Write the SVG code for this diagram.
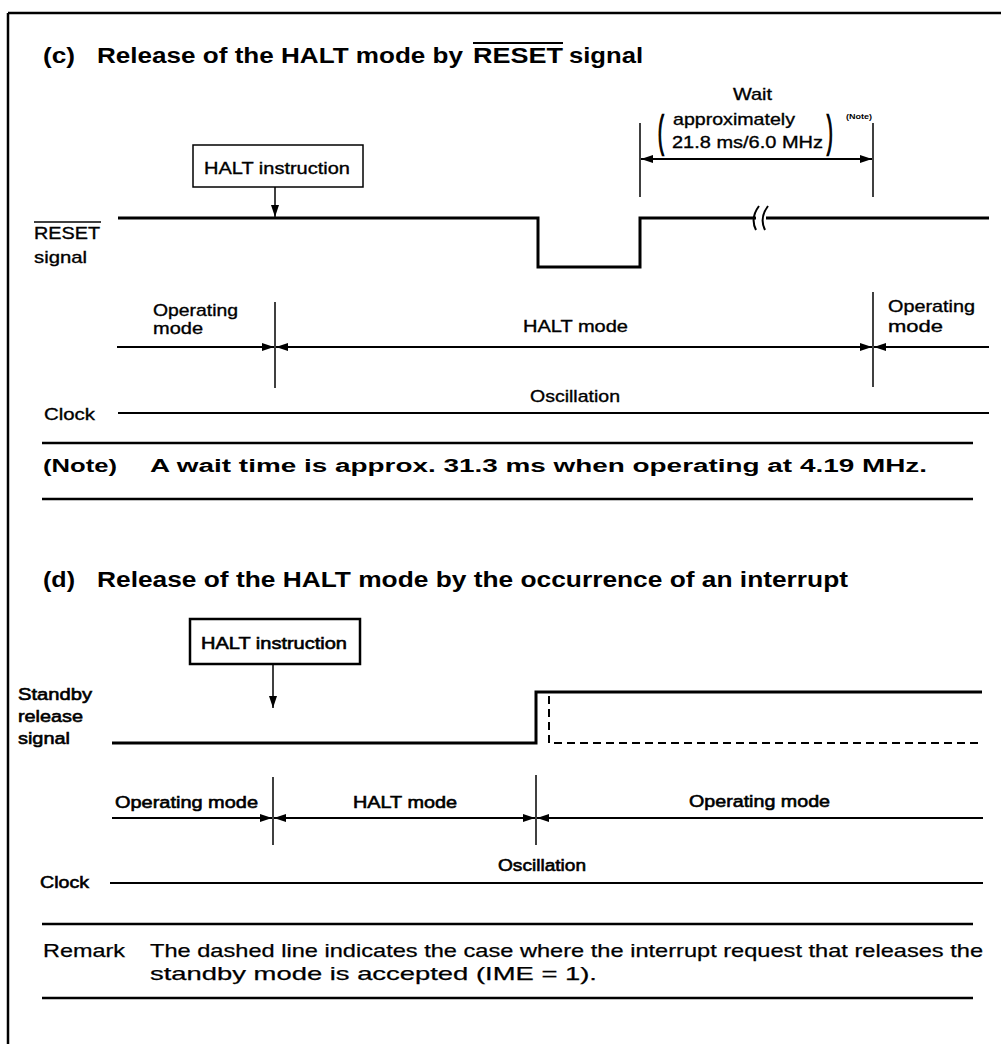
<svg xmlns="http://www.w3.org/2000/svg" width="1001" height="1044" viewBox="0 0 1001 1044">
<style>
text{font-family:"Liberation Sans",Arial,Helvetica,sans-serif;fill:#000}
.ttl{font-size:22px;font-weight:bold}
.lbl{font-size:17px;stroke:#000;stroke-width:0.35}
.lbd{font-size:17px;stroke:#000;stroke-width:0.6}
.par{font-size:17px;stroke:#000;stroke-width:0.9}
.nt{font-size:18px;font-weight:bold}
.rm{font-size:19px;stroke:#000;stroke-width:0.25}
.ln{stroke:#000;fill:none;stroke-width:2}
.sig{stroke:#000;fill:none;stroke-width:3}
.thin{stroke:#000;fill:none;stroke-width:1.5}
.sep{stroke:#000;stroke-width:2.5}
</style>
<defs>
<marker id="ah" viewBox="0 0 12 8" refX="12" refY="4" markerWidth="12" markerHeight="8" markerUnits="userSpaceOnUse" orient="auto-start-reverse">
<path d="M0,0 L12,4 L0,8 z" fill="#000"/>
</marker>
</defs>
<rect width="1001" height="1044" fill="#fff"/>
<g id="frame">
<line x1="8" y1="13" x2="1001" y2="13" class="sep"/>
<line x1="8" y1="13" x2="8" y2="1044" class="sep"/>
</g>

<!-- ===== (c) ===== -->
<g id="title-c">
<text class="ttl" x="43" y="63" textLength="32" lengthAdjust="spacingAndGlyphs">(c)</text>
<text class="ttl" x="97" y="63" textLength="366" lengthAdjust="spacingAndGlyphs">Release of the HALT mode by</text>
<text class="ttl" x="473" y="63" textLength="90" lengthAdjust="spacingAndGlyphs">RESET</text>
<line x1="473" y1="43" x2="563" y2="43" stroke="#000" stroke-width="2"/>
<text class="ttl" x="569" y="63" textLength="74" lengthAdjust="spacingAndGlyphs">signal</text>
</g>
<g id="halt-instr-c">
<rect x="193" y="145" width="170" height="42" class="thin" fill="#fff"/>
<text class="lbl" x="204" y="174" textLength="146" lengthAdjust="spacingAndGlyphs">HALT instruction</text>
</g>
<g id="reset-label">
<text class="lbl" x="34" y="239" textLength="66" lengthAdjust="spacingAndGlyphs">RESET</text>
<line x1="34" y1="222" x2="101" y2="222" stroke="#000" stroke-width="1.5"/>
<text class="lbl" x="34" y="263" textLength="53" lengthAdjust="spacingAndGlyphs">signal</text>
</g>
<g id="wait-label">
<text class="lbl" x="733" y="100" textLength="39" lengthAdjust="spacingAndGlyphs">Wait</text>
<text class="par" x="0" y="0" transform="translate(658,146) scale(1,2.5)">(</text>
<text class="lbl" x="673" y="125" textLength="122" lengthAdjust="spacingAndGlyphs">approximately</text>
<text class="lbl" x="672" y="148" textLength="151" lengthAdjust="spacingAndGlyphs">21.8 ms/6.0 MHz</text>
<text class="par" x="0" y="0" transform="translate(827,146) scale(1,2.5)">)</text>
<text x="846" y="119" font-size="8" font-weight="bold" textLength="26" lengthAdjust="spacingAndGlyphs">(Note)</text>
</g>
<g id="mode-labels-c">
<text class="lbl" x="153" y="316" textLength="85" lengthAdjust="spacingAndGlyphs">Operating</text>
<text class="lbl" x="153" y="334" textLength="50" lengthAdjust="spacingAndGlyphs">mode</text>
<text class="lbl" x="523" y="332" textLength="105" lengthAdjust="spacingAndGlyphs">HALT mode</text>
<text class="lbl" x="888" y="312" textLength="87" lengthAdjust="spacingAndGlyphs">Operating</text>
<text class="lbl" x="888" y="332" textLength="55" lengthAdjust="spacingAndGlyphs">mode</text>
</g>
<g id="clock-c">
<text class="lbl" x="44" y="420" textLength="51" lengthAdjust="spacingAndGlyphs">Clock</text>
<text class="lbl" x="530" y="402" textLength="90" lengthAdjust="spacingAndGlyphs">Oscillation</text>
</g>
<g id="note-c">
<text class="nt" x="43" y="472" textLength="74" lengthAdjust="spacingAndGlyphs">(Note)</text>
<text class="nt" x="150" y="472" textLength="777" lengthAdjust="spacingAndGlyphs">A wait time is approx. 31.3 ms when operating at 4.19 MHz.</text>
</g>

<!-- ===== (d) ===== -->
<g id="title-d">
<text class="ttl" x="43" y="587" textLength="32" lengthAdjust="spacingAndGlyphs">(d)</text>
<text class="ttl" x="97" y="587" textLength="751" lengthAdjust="spacingAndGlyphs">Release of the HALT mode by the occurrence of an interrupt</text>
</g>
<g id="halt-instr-d">
<rect x="190" y="619" width="170" height="45" fill="#fff" stroke="#000" stroke-width="2.5"/>
<text class="lbd" x="201" y="649" textLength="146" lengthAdjust="spacingAndGlyphs">HALT instruction</text>
</g>
<g id="standby-label">
<text class="lbd" x="18" y="700" textLength="74" lengthAdjust="spacingAndGlyphs">Standby</text>
<text class="lbd" x="18" y="722" textLength="65" lengthAdjust="spacingAndGlyphs">release</text>
<text class="lbd" x="18" y="744" textLength="52" lengthAdjust="spacingAndGlyphs">signal</text>
</g>
<g id="mode-labels-d">
<text class="lbd" x="115" y="808" textLength="143" lengthAdjust="spacingAndGlyphs">Operating mode</text>
<text class="lbd" x="353" y="808" textLength="104" lengthAdjust="spacingAndGlyphs">HALT mode</text>
<text class="lbd" x="689" y="807" textLength="141" lengthAdjust="spacingAndGlyphs">Operating mode</text>
</g>
<g id="clock-d">
<text class="lbd" x="40" y="888" textLength="49" lengthAdjust="spacingAndGlyphs">Clock</text>
<text class="lbd" x="498" y="871" textLength="88" lengthAdjust="spacingAndGlyphs">Oscillation</text>
</g>
<g id="remark-d">
<text class="rm" x="43" y="957" textLength="82" lengthAdjust="spacingAndGlyphs">Remark</text>
<text class="rm" x="150" y="957" textLength="833" lengthAdjust="spacingAndGlyphs">The dashed line indicates the case where the interrupt request that releases the</text>
<text class="rm" x="150" y="980" textLength="447" lengthAdjust="spacingAndGlyphs">standby mode is accepted (IME = 1).</text>
</g>

<g id="connectors">
<!-- (c) -->
<line x1="275" y1="187" x2="275" y2="217" class="thin" marker-end="url(#ah)"/>
<polyline points="118,218 538,218 538,267 640,267 640,218 756,218" class="sig"/>
<line x1="766" y1="218" x2="989" y2="218" class="sig"/>
<path d="M759,206 Q750,218 756,230 M768,206 Q759,218 765,230" class="ln"/>
<line x1="640" y1="123" x2="640" y2="197" class="thin"/>
<line x1="873" y1="123" x2="873" y2="197" class="thin"/>
<line x1="641" y1="159" x2="872" y2="159" class="ln" marker-start="url(#ah)" marker-end="url(#ah)"/>
<line x1="275" y1="302" x2="275" y2="388" class="thin"/>
<line x1="873" y1="292" x2="873" y2="387" class="thin"/>
<line x1="117" y1="347" x2="274" y2="347" class="ln" marker-end="url(#ah)"/>
<line x1="276" y1="347" x2="872" y2="347" class="ln" marker-start="url(#ah)" marker-end="url(#ah)"/>
<line x1="874" y1="347" x2="989" y2="347" class="ln" marker-start="url(#ah)"/>
<line x1="118" y1="413" x2="989" y2="413" class="ln"/>
<line x1="42" y1="443" x2="973" y2="443" class="sep"/>
<line x1="42" y1="499" x2="973" y2="499" class="sep"/>
<!-- (d) -->
<line x1="273" y1="664" x2="273" y2="708" class="thin" marker-end="url(#ah)"/>
<polyline points="112,743 536,743 536,692 982,692" class="sig"/>
<polyline points="549,696 549,743 982,743" class="ln" stroke-dasharray="8,5"/>
<line x1="273" y1="777" x2="273" y2="845" class="thin"/>
<line x1="536" y1="775" x2="536" y2="845" class="thin"/>
<line x1="112" y1="818" x2="272" y2="818" class="ln" marker-end="url(#ah)"/>
<line x1="274" y1="818" x2="535" y2="818" class="ln" marker-start="url(#ah)" marker-end="url(#ah)"/>
<line x1="537" y1="818" x2="983" y2="818" class="ln" marker-start="url(#ah)"/>
<line x1="110" y1="883" x2="983" y2="883" class="ln"/>
<line x1="42" y1="924" x2="973" y2="924" class="sep"/>
<line x1="42" y1="998" x2="973" y2="998" class="sep"/>
</g>
</svg>
